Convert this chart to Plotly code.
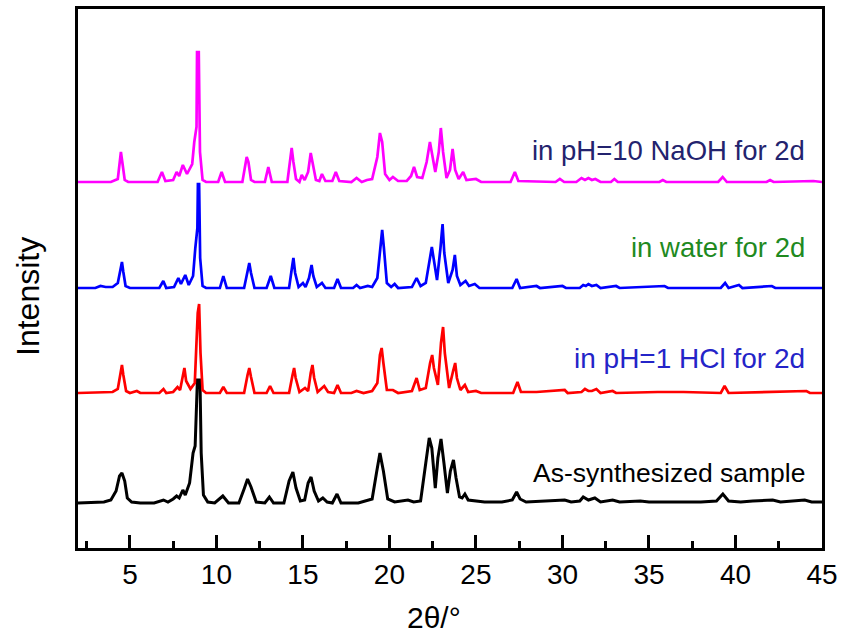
import plotly.graph_objects as go

# ---- data: vertices (2theta, intensity above each pattern's own baseline) ----
naoh_x = [2.0, 3.9, 4.3, 4.42, 4.48, 4.56, 4.7, 4.9, 6.6, 6.85, 7.05, 7.5, 7.7, 7.85, 8.06, 8.3,
          8.6, 8.72, 8.85, 8.88, 8.98, 9.05, 9.2, 9.4, 10.1, 10.3, 10.5, 11.5, 11.68, 11.75, 11.85,
          12.0, 12.2, 12.8, 13.0, 13.2, 14.1, 14.28, 14.35, 14.45, 14.6, 14.8, 14.93, 15.1, 15.3,
          15.45, 15.55, 15.75, 15.95, 16.1, 16.3, 16.7, 16.9, 17.1, 17.8, 18.1, 18.4, 18.7, 19.0,
          19.3, 19.45, 19.58, 19.75, 20.0, 20.2, 20.5, 21.0, 21.25, 21.42, 21.6, 21.9, 22.15, 22.34,
          22.5, 22.65, 22.85, 22.97, 23.1, 23.3, 23.5, 23.65, 23.8, 24.0, 24.26, 24.45, 25.0, 25.3,
          27.0, 27.25, 27.45, 29.6, 29.85, 30.1, 30.8, 31.1, 31.3, 31.5, 31.7, 31.9, 32.2, 32.8,
          33.0, 33.2, 35.6, 35.8, 36.0, 39.0, 39.26, 39.5, 41.8, 42.0, 42.2, 44.5, 45.0]
naoh_y = [0, 0, 3, 22, 30, 20, 2, 0, 0, 10, 1, 2, 10, 6, 17, 8,
          18, 40, 55, 130, 130, 30, 2, 0, 0, 10, 0, 0, 20, 25, 20,
          2, 0, 0, 15, 0, 0, 28, 34, 20, 3, 0, 7, 2, 10,
          29, 20, 2, 1, 8, 1, 1, 10, 1, 0, 4, 0, 2, 3,
          25, 49, 40, 8, 2, 5, 1, 1, 6, 15, 5, 4, 20, 40,
          25, 10, 30, 54, 30, 4, 12, 33, 12, 3, 10, 2, 3, 0,
          0, 10, 1, 0, 3, 0, 0, 4, 2, 4, 2, 3, 0, 0,
          3, 0, 0, 2, 0, 0, 5, 0, 0, 2, 0, 1, 0]

water_x = [2.0, 3.0, 3.3, 3.6, 4.0, 4.3, 4.45, 4.54, 4.62, 4.75, 5.0, 6.7, 6.93, 7.1, 7.55, 7.8,
           7.95, 8.2, 8.4, 8.65, 8.78, 8.83, 8.9, 8.93, 9.0, 9.06, 9.2, 9.4, 10.2, 10.4, 10.6,
           11.6, 11.8, 11.9, 12.0, 12.2, 12.9, 13.14, 13.35, 14.2, 14.38, 14.45, 14.55, 14.75,
           15.0, 15.15, 15.35, 15.5, 15.6, 15.8, 16.1, 16.3, 16.8, 17.0, 17.2, 17.9, 18.1, 18.3,
           18.75, 19.0, 19.3, 19.48, 19.58, 19.68, 19.85, 20.1, 20.3, 20.5, 21.3, 21.57, 21.8,
           22.1, 22.3, 22.45, 22.55, 22.75, 22.95, 23.07, 23.17, 23.4, 23.65, 23.78, 23.9, 24.1,
           24.4, 24.6, 24.93, 25.2, 27.1, 27.35, 27.55, 28.5, 28.7, 30.0, 30.2, 31.0, 31.2, 31.35,
           31.5, 31.7, 31.96, 32.2, 33.1, 33.3, 35.9, 36.1, 39.15, 39.4, 39.6, 40.2, 40.4, 42.1,
           42.3, 45.0]
water_y = [0, 0, 2, 1, 1, 5, 18, 26, 16, 2, 0, 0, 7, 0, 1, 10,
           4, 13, 3, 12, 40, 51, 60, 104, 104, 30, 2, 0, 0, 12, 0,
           0, 18, 25, 15, 0, 0, 12, 0, 0, 22, 30, 15, 1,
           5, 1, 10, 23, 12, 1, 5, 0, 0, 9, 0, 0, 3, 0,
           2, 1, 10, 45, 58, 40, 5, 1, 4, 0, 1, 10, 2,
           5, 25, 41, 30, 8, 40, 64, 35, 5, 18, 33, 12, 3,
           7, 2, 4, 0, 0, 9, 0, 2, 0, 2, 0, 0, 3, 2,
           4, 2, 3, 0, 2, 0, 2, 0, 0, 5, 0, 3, 0, 2,
           0, 0]

hcl_x = [2.0, 3.5, 4.0, 4.3, 4.45, 4.54, 4.62, 4.78, 5.0, 5.4, 5.6, 6.7, 6.94, 7.1, 7.5, 7.75,
         7.9, 8.05, 8.15, 8.25, 8.5, 8.75, 8.92, 9.0, 9.08, 9.2, 9.4, 10.2, 10.4, 10.6, 11.6,
         11.8, 11.9, 12.0, 12.2, 12.9, 13.1, 13.3, 14.2, 14.4, 14.49, 14.58, 14.8, 15.12, 15.3,
         15.45, 15.55, 15.65, 15.85, 16.23, 16.45, 16.8, 17.0, 17.2, 17.8, 18.1, 18.5, 19.0,
         19.3, 19.45, 19.55, 19.65, 19.85, 20.2, 20.5, 21.3, 21.57, 21.75, 22.1, 22.35, 22.47,
         22.57, 22.8, 22.98, 23.1, 23.2, 23.45, 23.68, 23.8, 23.9, 24.1, 24.36, 24.55, 25.0,
         25.3, 27.15, 27.4, 27.6, 28.5, 30.13, 30.3, 31.1, 31.3, 31.5, 31.7, 31.96, 32.2, 32.9,
         33.1, 35.5, 37.0, 39.15, 39.37, 39.6, 42.0, 44.1, 44.3, 45.0]
hcl_y = [0, 1, 1, 4, 20, 28, 18, 2, 0, 2, 0, 0, 4, 0, 1, 6,
         3, 15, 25, 12, 4, 10, 80, 89, 40, 3, 0, 0, 6, 0, 0,
         18, 25, 16, 0, 0, 7, 0, 0, 18, 25, 15, 1, 5, 2,
         20, 28, 15, 1, 7, 1, 0, 8, 0, 0, 2, 0, 2,
         10, 38, 45, 30, 3, 3, 0, 2, 15, 3, 5, 30, 38,
         25, 8, 50, 66, 40, 5, 22, 30, 15, 3, 8, 1, 2,
         0, 0, 11, 1, 1, 3, 0, 1, 4, 2, 2, 4, 0, 2,
         0, 1, 1, 0, 7, 0, 1, 2, 0, 0]

as_x = [2.0, 3.5, 3.9, 4.2, 4.4, 4.54, 4.7, 4.85, 5.1, 5.6, 6.4, 6.94, 7.2, 7.5, 7.7, 7.85,
        8.06, 8.2, 8.45, 8.65, 8.77, 8.85, 8.9, 9.05, 9.12, 9.25, 9.5, 9.9, 10.37, 10.7, 11.3,
        11.6, 11.8, 12.0, 12.3, 12.8, 13.06, 13.3, 13.9, 14.2, 14.42, 14.6, 14.85, 15.1, 15.3,
        15.47, 15.65, 15.9, 16.15, 16.4, 16.7, 16.97, 17.2, 18.2, 18.6, 19.0, 19.25, 19.45,
        19.65, 19.9, 20.3, 21.07, 21.4, 21.8, 22.1, 22.3, 22.45, 22.65, 22.8, 22.98, 23.15,
        23.35, 23.52, 23.7, 23.85, 24.05, 24.2, 24.36, 24.55, 25.0, 25.5, 26.5, 27.1, 27.35,
        27.55, 27.9, 29.0, 30.13, 30.5, 31.0, 31.2, 31.5, 31.87, 32.2, 32.9, 33.3, 34.5, 35.0,
        36.5, 38.0, 38.9, 39.27, 39.6, 40.3, 41.0, 42.15, 42.6, 44.0, 44.4, 45.0]
as_y = [0, 1, 3, 12, 27, 30, 22, 5, 1, 0, 0, 3, 1, 4, 7, 5,
        13, 8, 20, 50, 57, 100, 123, 123, 50, 8, 1, 0, 7, 0, 0,
        14, 24, 16, 1, 0, 6, 0, 0, 22, 31, 15, 2, 3, 20,
        26, 12, 2, 5, 1, 0, 9, 0, 0, 2, 4, 30, 50,
        32, 4, 1, 3, 1, 2, 40, 65, 55, 15, 45, 64, 40,
        10, 32, 43, 25, 6, 5, 9, 3, 2, 1, 1, 3, 11,
        4, 1, 2, 3, 1, 2, 6, 3, 5, 1, 3, 1, 2, 1,
        1, 1, 2, 9, 2, 1, 2, 3, 1, 3, 1, 1]

labels = ["As-synthesized sample", "in pH=1 HCl for 2d", "in water for 2d", "in pH=10 NaOH for 2d"]
x_ticks = [5, 10, 15, 20, 25, 30, 35, 40, 45]

# ---- styling / positions ----
# (x, y, baseline offset, line colour, line width, label colour, label y, label font size)
series = [
    (as_x, as_y, 45, "#000000", 3.0, "#000000", 75, 26.5),
    (hcl_x, hcl_y, 155, "#ff0000", 2.7, "#2424c8", 190, 28),
    (water_x, water_y, 260, "#0000ff", 2.7, "#1f8a1f", 301, 27.5),
    (naoh_x, naoh_y, 366, "#ff00ff", 2.7, "#23236e", 398, 27.5),
]
FONT = "Liberation Sans, Arial, sans-serif"

fig = go.Figure()
annotations = []
for (xs, ys, off, col, lw, tcol, ty, fs), lab in zip(series, labels):
    fig.add_trace(go.Scatter(x=xs, y=[v + off for v in ys], mode="lines",
                             line=dict(color=col, width=lw), showlegend=False,
                             hoverinfo="skip"))
    annotations.append(dict(x=44.15, y=ty, xref="x", yref="y", text=lab, showarrow=False,
                            xanchor="right", yanchor="middle",
                            font=dict(family=FONT, size=fs, color=tcol)))

annotations.append(dict(x=0.478, y=-0.164, xref="paper", yref="paper", text="2θ/°",
                        showarrow=False, xanchor="center", yanchor="bottom",
                        font=dict(family=FONT, size=30, color="black")))
annotations.append(dict(x=-0.067, y=0.466, xref="paper", yref="paper", text="Intensity",
                        showarrow=False, xanchor="center", yanchor="middle", textangle=-90,
                        font=dict(family=FONT, size=32, color="black")))

fig.update_layout(
    width=841, height=638, autosize=False,
    margin=dict(l=78, r=19, t=9, b=90, autoexpand=False),
    paper_bgcolor="white", plot_bgcolor="white",
    annotations=annotations,
    font=dict(family=FONT, color="black"),
)
fig.update_xaxes(range=[2, 45], tickmode="array", tickvals=x_ticks,
                 ticktext=[str(t) for t in x_ticks],
                 ticks="inside", ticklen=13, tickwidth=2.5, tickcolor="black",
                 minor=dict(dtick=2.5, tick0=0, ticks="inside", ticklen=7, tickwidth=2.5,
                            tickcolor="black", showgrid=False),
                 showline=True, linecolor="black", linewidth=2.5, mirror=True,
                 showgrid=False, zeroline=False, automargin=False,
                 tickfont=dict(family=FONT, size=28, color="black"),
                 ticklabelstandoff=0, ticklabeloverflow="allow")
fig.update_yaxes(range=[0, 539], showticklabels=False, ticks="",
                 showline=True, linecolor="black", linewidth=2.5, mirror=True,
                 showgrid=False, zeroline=False, automargin=False)

# remove the page's default 8px body margin so the 841x638 figure fills the window exactly
fig.write_html("out.html", config={"displayModeBar": False},
               post_script="document.body.style.margin='0px';document.body.style.overflow='hidden';")
